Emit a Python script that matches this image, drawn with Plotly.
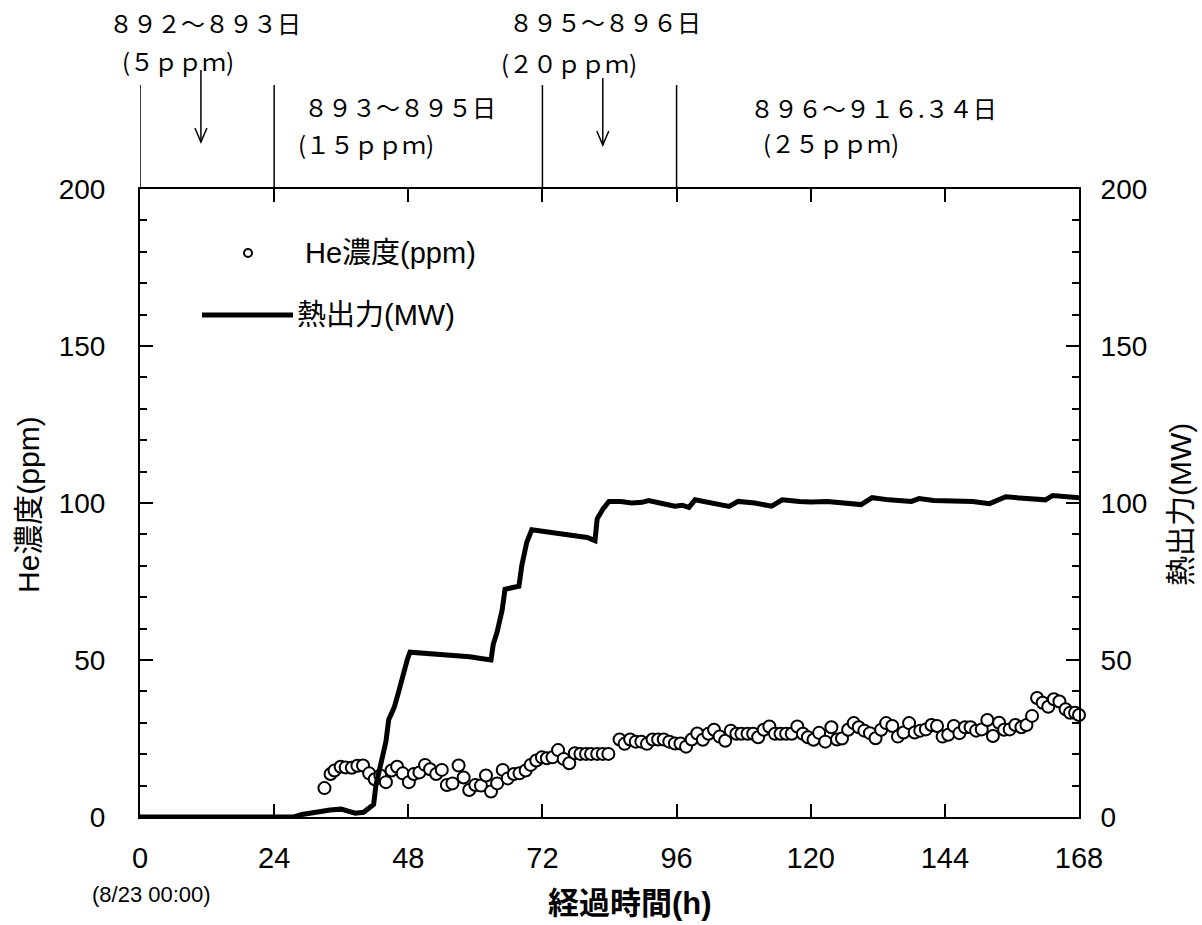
import plotly.graph_objects as go

# ---------------- data ----------------
hours_he = [33.0, 34.1, 34.8, 35.9, 36.8, 37.9, 38.9, 39.9, 41.0, 42.0, 43.0, 44.0, 45.0, 46.0, 47.0,
            48.1, 49.0, 50.0, 51.0, 51.9, 53.0, 54.0, 54.9, 55.9, 57.0, 57.9, 58.9, 60.0, 61.0, 61.9,
            62.8, 63.9, 64.9, 65.8, 66.9, 67.9, 69.0, 69.9, 70.9, 71.9, 72.8, 73.8, 74.8, 75.8, 76.8,
            77.8, 78.8, 79.8, 80.7, 81.8, 82.8, 83.8, 85.8, 86.7, 87.7, 88.7, 89.7, 90.7, 91.7, 92.7,
            93.7, 94.7, 95.7, 96.7, 97.7, 98.7, 99.7, 100.7, 101.7, 102.7, 103.7, 104.7, 105.7, 106.7,
            107.6, 108.7, 109.7, 110.6, 111.6, 112.6, 113.6, 114.6, 115.6, 116.6, 117.6, 118.6, 119.5,
            120.5, 121.5, 122.6, 123.7, 124.7, 125.6, 126.7, 127.7, 128.6, 129.6, 130.6, 131.6, 132.6,
            133.5, 134.6, 135.6, 136.6, 137.6, 138.6, 139.6, 140.6, 141.6, 142.6, 143.6, 144.6, 145.6,
            146.6, 147.6, 148.6, 149.6, 150.6, 151.6, 152.6, 153.7, 154.6, 155.6, 156.6, 157.7, 158.6,
            159.6, 160.5, 161.5, 162.5, 163.5, 164.5, 165.6, 166.4, 167.3, 168.0]
he_ppm = [9.2, 13.7, 14.8, 16.0, 15.8, 15.7, 16.3, 16.4, 13.9, 12.0, 13.2, 11.1, 14.8, 16.0, 13.9,
          11.1, 13.7, 14.2, 16.6, 15.2, 13.7, 15.0, 10.2, 10.7, 16.4, 12.6, 8.6, 10.2, 10.0, 13.2,
          8.1, 10.7, 15.0, 12.3, 13.7, 13.9, 14.8, 16.6, 18.0, 19.0, 18.7, 19.0, 21.3, 18.5, 17.1,
          20.3, 20.1, 20.1, 20.1, 20.1, 20.1, 20.1, 24.7, 23.3, 24.7, 24.0, 24.0, 23.3, 24.7, 24.7,
          24.7, 24.0, 23.4, 23.4, 22.4, 24.7, 26.6, 24.6, 26.5, 27.8, 25.6, 24.3, 27.5, 26.5,
          26.5, 26.5, 26.5, 25.4, 27.8, 28.8, 26.5, 26.5, 26.5, 26.5, 28.8, 26.5, 25.4,
          24.6, 26.8, 24.0, 28.6, 24.7, 25.0, 27.8, 29.9, 28.6, 27.5, 26.7, 25.1, 27.8,
          29.9, 29.0, 25.6, 26.9, 29.9, 26.9, 27.5, 27.9, 29.3, 29.0, 25.6, 26.2, 29.0,
          26.7, 28.6, 28.6, 27.5, 27.9, 30.9, 25.8, 30.0, 27.8, 27.9, 29.3, 28.6, 29.3,
          32.2, 37.9, 36.4, 35.1, 37.5, 36.8, 34.3, 33.2, 33.2, 32.5]

hours_pw = [0, 10, 18, 27.5, 29, 32, 34, 36, 38.5, 40, 41, 41.8, 42.2, 43, 44, 44.5, 45.5, 46.3, 47,
            47.8, 48.3, 50, 53, 55, 57, 59, 61, 62.8, 63.2, 63.9, 64.8, 65.3, 66.5, 67.8, 68.3, 69.2,
            70.1, 72, 74, 76, 78, 80, 81.4, 81.8, 82.8, 83.9, 86, 88, 89.8, 91, 93, 95.7, 97, 98.2,
            99.3, 102, 105.4, 107, 110, 113, 114.9, 118, 120, 123, 126, 129, 131, 134, 138, 139.4,
            142, 146, 149, 152, 154.9, 158, 162, 163.3, 166, 168]
power_mw = [0, 0, 0, 0, 0.8, 1.8, 2.2, 2.5, 1.2, 1.5, 3, 4, 10, 16, 24, 31, 35, 40, 45,
            50, 52.5, 52.3, 52, 51.5, 51.3, 51, 50.5, 50, 55, 59, 66, 72.5, 73, 73.5, 80, 87.5,
            91.5, 91, 90.5, 90, 89.5, 89, 88, 95, 98, 100.5, 100.5, 100, 100.2, 100.8, 100, 99, 99.3, 98.6,
            101, 100, 98.9, 100.5, 100, 99, 101, 100.5, 100.3, 100.5, 100, 99.5, 101.7, 101, 100.5, 101.4,
            100.8, 100.8, 100.5, 99.8, 102, 101.5, 101, 102.4, 101.8, 101.7]

x_ticks = [0, 24, 48, 72, 96, 120, 144, 168]
y_ticks = [0, 50, 100, 150, 200]
period_bounds = [0, 24, 72, 96]
period_labels = [
    ("８９２～８９３日", "(５ｐｐｍ)"),
    ("８９３～８９５日", "(１５ｐｐｍ)"),
    ("８９５～８９６日", "(２０ｐｐｍ)"),
    ("８９６～９１６.３４日", "(２５ｐｐｍ)"),
]
arrow_hours = [10.9, 82.8]

# ---------------- layout helpers ----------------
W, H = 1202, 925
L, R, T, B = 140, 123, 189, 108
PW, PH = W - L - R, H - T - B


def px(x, y):
    return (x - L) / PW, (H - B - y) / PH


SANS = "Liberation Sans, Arial, Noto Sans CJK JP, sans-serif"
CJK = "Noto Sans CJK JP, Liberation Sans, sans-serif"

fig = go.Figure()
fig.add_trace(go.Scatter(
    x=hours_he, y=he_ppm, mode="markers", name="He濃度(ppm)", yaxis="y",
    marker=dict(symbol="circle", size=12, color="white", line=dict(color="black", width=2)),
    cliponaxis=False, showlegend=False))
fig.add_trace(go.Scatter(
    x=hours_pw, y=power_mw, mode="lines", name="熱出力(MW)", yaxis="y2",
    line=dict(color="black", width=5), showlegend=False))

common = dict(showline=True, linecolor="black", linewidth=2, ticks="inside", tickcolor="black",
              tickwidth=2, showgrid=False, zeroline=False)

fig.update_layout(
    width=W, height=H, margin=dict(l=L, r=R, t=T, b=B, autoexpand=False),
    paper_bgcolor="white", plot_bgcolor="white",
    xaxis=dict(range=[0, 168], tickvals=x_ticks, ticklen=13, mirror="ticks",
               tickfont=dict(size=29, family=SANS, color="black"), ticklabelstandoff=14, **common),
    yaxis=dict(range=[0, 200], tickvals=y_ticks, ticklen=13, ticksuffix="\u00a0",
               minor=dict(dtick=10, ticks="inside", ticklen=7, tickcolor="black", tickwidth=1.5),
               tickfont=dict(size=28, family=SANS, color="black"), ticklabelstandoff=27, **common),
    yaxis2=dict(range=[0, 200], tickvals=y_ticks, ticklen=13, overlaying="y", side="right",
                minor=dict(dtick=10, ticks="inside", ticklen=7, tickcolor="black", tickwidth=1.5),
                tickfont=dict(size=28, family=SANS, color="black"), ticklabelstandoff=14, **common),
)

shapes = []
annotations = []

# period boundary lines above the plot
for hb in period_bounds:
    shapes.append(dict(type="line", xref="x", yref="paper", x0=hb, x1=hb,
                       y0=1, y1=px(0, 85)[1], line=dict(color="black", width=1.5)))

# arrows
for ah, (ytop, ybot) in zip(arrow_hours, [(70, 142), (78, 145)]):
    yt, yb = px(0, ytop)[1], px(0, ybot)[1]
    dx = 6 * 168 / PW
    dy = 14 / PH
    shapes.append(dict(type="line", xref="x", yref="paper", x0=ah, x1=ah, y0=yt, y1=yb,
                       line=dict(color="black", width=1.5)))
    shapes.append(dict(type="path", xref="x", yref="paper",
                       path=f"M {ah - dx},{yb + dy} L {ah},{yb} L {ah + dx},{yb + dy}",
                       line=dict(color="black", width=1.5)))

# period texts
pos_top = [(205, 23), (400, 106), (605, 21), (873, 108)]
pos_bot = [(178, 60), (366, 144), (569, 63), (831, 142)]
for (l1, l2), p1, p2 in zip(period_labels, pos_top, pos_bot):
    for txt, p in ((l1, p1), (l2, p2)):
        xp, yp = px(*p)
        annotations.append(dict(text=txt, x=xp, y=yp, xref="paper", yref="paper",
                                xanchor="center", yanchor="middle", showarrow=False,
                                font=dict(size=24, family=CJK, color="black")))

# legend (custom)
cx0, cy0 = px(244, 249)
cx1, cy1 = px(252, 257)
shapes.append(dict(type="circle", xref="paper", yref="paper", x0=cx0, x1=cx1, y0=cy1, y1=cy0,
                   line=dict(color="black", width=2), fillcolor="white"))
lx0, ly = px(202, 315)
lx1, _ = px(293, 315)
shapes.append(dict(type="line", xref="paper", yref="paper", x0=lx0, x1=lx1, y0=ly, y1=ly,
                   line=dict(color="black", width=5)))
for txt, p in (("He濃度(ppm)", (303, 253)), ("熱出力(MW)", (295, 315))):
    xp, yp = px(*p)
    annotations.append(dict(text=txt, x=xp, y=yp, xref="paper", yref="paper", xanchor="left",
                            yanchor="middle", showarrow=False,
                            font=dict(size=29, family=SANS, color="black")))

# axis titles
for txt, p in (("He濃度(ppm)", (28, 505)), ("熱出力(MW)", (1180, 505))):
    xp, yp = px(*p)
    annotations.append(dict(text=txt, x=xp, y=yp, xref="paper", yref="paper", xanchor="center",
                            yanchor="middle", textangle=-90, showarrow=False,
                            font=dict(size=30, family=SANS, color="black")))
xp, yp = px(630, 903)
annotations.append(dict(text="<b>経過時間(h)</b>", x=xp, y=yp, xref="paper", yref="paper",
                        xanchor="center", yanchor="middle", showarrow=False,
                        font=dict(size=31, family=SANS, color="black")))
xp, yp = px(151, 894)
annotations.append(dict(text="(8/23 00:00)", x=xp, y=yp, xref="paper", yref="paper",
                        xanchor="center", yanchor="middle", showarrow=False,
                        font=dict(size=22, family=SANS, color="black")))

fig.update_layout(shapes=shapes, annotations=annotations)
fig.write_html("out.html", config={"displayModeBar": False},
               post_script="document.body.style.margin='0';")
